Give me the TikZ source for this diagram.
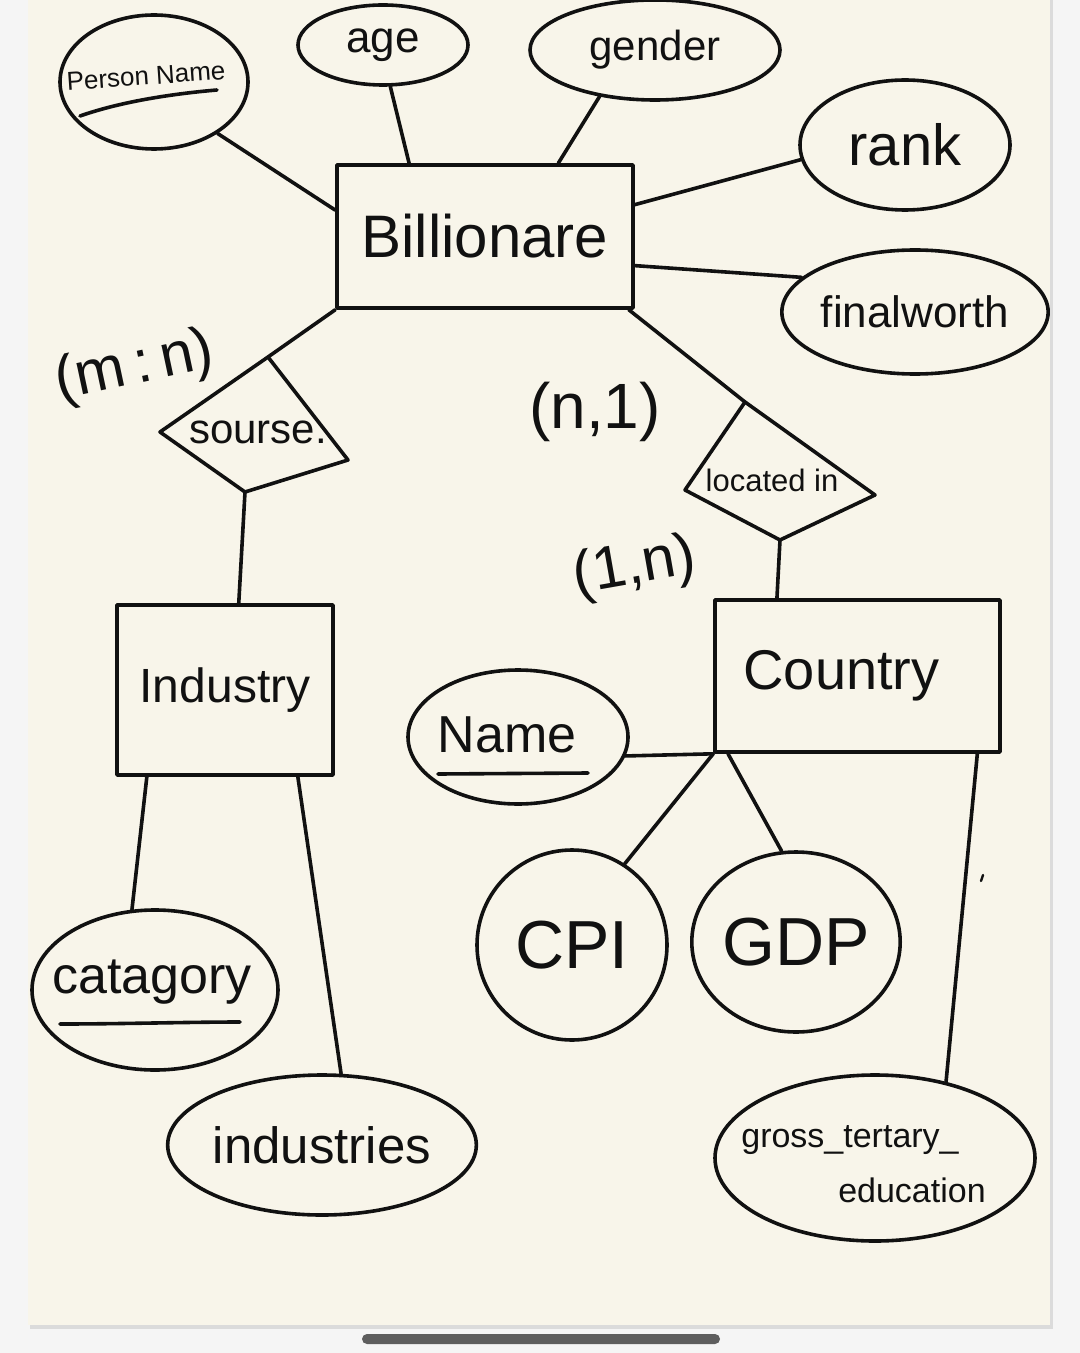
\documentclass[tikz,border=0pt]{standalone}
\usepackage{fontspec}
\setmainfont{Liberation Sans}
\usetikzlibrary{shapes.geometric,calc}
\definecolor{paper}{HTML}{F8F5EA}
\definecolor{outer}{HTML}{F5F5F5}
\definecolor{ink}{HTML}{111111}
\definecolor{barc}{HTML}{5E5E5E}
\newcommand{\fsz}[1]{\fontsize{#1}{#1}\selectfont}
\begin{document}
\begin{tikzpicture}[x=0.5pt,y=-0.5pt,line width=1.8pt,line cap=round,line join=round,
  attr/.style 2 args={ellipse,draw=ink,inner sep=0pt,minimum width=#1,minimum height=#2,text=ink},
  ent/.style 2 args={rectangle,draw=ink,inner sep=0pt,minimum width=#1,minimum height=#2,text=ink},
  txt/.style={text=ink,inner sep=0pt},
  conn/.style={draw=ink}]
% background
\fill[outer] (0,0) rectangle (1080,1353);
\useasboundingbox (0,0) rectangle (1080,1353);
\fill[black!14] (30,0) rectangle (1053,1329);
\fill[paper] (28,0) rectangle (1050,1325);
\fill[barc,rounded corners=2.5pt] (362,1334) rectangle (720,1344);

% entities
\node[ent={148pt}{71.5pt}] (bill) at (485,236.5) {\fsz{30}Billionare};
\node[ent={108pt}{85pt}] (ind) at (225,690) {\fsz{24}Industry};
\node[ent={142.5pt}{76pt}] (ctry) at (857.5,676) {\fsz{28}Country\hspace*{16pt}};

% attributes
\node[attr={94pt}{67pt}] (pn) at (154,82) {};
\node[txt,rotate=4] (pnt) at (146,76) {\fsz{13}Person Name};
\node[attr={85pt}{40pt}] (age) at (383,45) {\fsz{22}age};
\node[attr={125pt}{50pt}] (gender) at (655,50) {\fsz{21}gender};
\node[attr={105pt}{65pt}] (rank) at (905,145) {\fsz{29}rank};
\node[attr={128pt}{62pt}] (fw) at (915,312) {\fsz{22}finalworth};
\node[attr={110pt}{67pt}] (name) at (518,737) {};
\node[txt] (namet) at (507,735) {\fsz{26}Name};
\node[attr={95pt}{95pt}] (cpi) at (572,945) {\fsz{34}CPI};
\node[attr={93pt}{90pt}] (gdp) at (796,942) {\fsz{34}GDP};
\node[attr={123pt}{80pt}] (cat) at (155,990) {};
\node[txt] (catt) at (152,982) {\fsz{26}catagory};
\node[attr={134pt}{70pt}] (indus) at (322,1145) {\fsz{25.5}industries};
\node[attr={160pt}{83pt}] (ge) at (875,1158) {};
\node[txt] (get1) at (850,1140) {\fsz{17}gross\_tertary\_};
\node[txt] (get2) at (912,1190) {\fsz{17}education};

% underlines
\draw[ink] (80,116) .. controls (120,102) and (170,94) .. (217,90);
\draw[ink] (438,774) -- (588,773);
\draw[ink] (60,1024) .. controls (120,1024) and (190,1022) .. (240,1022);

% relationship: sourse
\coordinate (st) at (268,357);
\coordinate (sl) at (160,432);
\coordinate (sb) at (245,492);
\coordinate (sr) at (348,460);
\draw[ink] (st) -- (sl) -- (sb) -- (sr) -- cycle;
\node[txt] (srt) at (258,432) {\fsz{21}sourse.};

% relationship: located in
\coordinate (lt) at (745,402);
\coordinate (ll) at (685,490);
\coordinate (lb) at (780,540);
\coordinate (lr) at (875,495);
\draw[ink] (lt) -- (ll) -- (lb) -- (lr) -- cycle;
\node[txt] (lit) at (772,480) {\fsz{15.5}located in};

% cardinalities
\node[txt,rotate=12] (c1) at (135,368) {\fsz{30}(m\,:\,n)};
\node[txt] (c2) at (595,412) {\fsz{32}(n,1)};
\node[txt,rotate=10] (c3) at (635,568) {\fsz{30}(1,n)};

% connectors
\draw[conn] (pn.-39) -- (bill.170);
\draw[conn] (age.-80) -- (bill.136);
\draw[conn] (gender.-140) -- (bill.45);
\draw[conn] (rank.188) -- (bill.12);
\draw[conn] (fw.163) -- (bill.-11);
\draw[conn] (bill.south west) -- (st);
\draw[conn] (bill.-27) -- (lt);
\draw[conn] (sb) -- (ind.81);
\draw[conn] (lb) -- (ctry.136);
\draw[conn] (ind.-132) -- (cat.106);
\draw[conn] (ind.-50) -- (indus.75);
\draw[conn] (ctry.south west) -- (name.-10);
\draw[conn] (ctry.south west) -- (cpi.57);
\draw[conn] (ctry.-149) -- (gdp.99);
\draw[conn] (ctry.-33) -- (ge.47);
\coordinate (tick) at (983,875);
\draw[ink,line width=1.2pt] (tick) -- ++(-2,6);
\end{tikzpicture}
\end{document}
